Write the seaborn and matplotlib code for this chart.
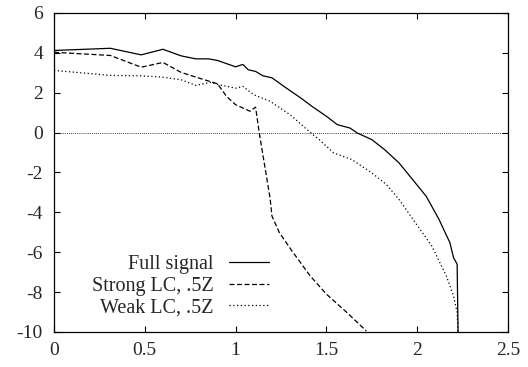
import pandas as pd
import seaborn as sns
import matplotlib.pyplot as plt

# ==================== Data ====================

full_x = [0.0, 0.31, 0.48, 0.60, 0.70, 0.78, 0.85, 0.90, 1.00, 1.04, 1.07, 1.11,
          1.15, 1.20, 1.28, 1.36, 1.42, 1.50, 1.56, 1.63, 1.67, 1.75, 1.82,
          1.90, 1.97, 2.05, 2.12, 2.18, 2.20, 2.22, 2.225]
full_y = [4.12, 4.23, 3.90, 4.18, 3.85, 3.70, 3.70, 3.62, 3.30, 3.42, 3.15, 3.07,
          2.85, 2.75, 2.23, 1.73, 1.32, 0.82, 0.40, 0.23, -0.02, -0.35, -0.85,
          -1.52, -2.30, -3.20, -4.35, -5.52, -6.27, -6.60, -10.0]

strong_x = [0.0, 0.31, 0.48, 0.60, 0.70, 0.80, 0.90, 0.95, 1.00, 1.08, 1.11,
            1.13, 1.17, 1.19, 1.20, 1.24, 1.31, 1.41, 1.50, 1.61, 1.72]
strong_y = [4.03, 3.87, 3.28, 3.52, 3.02, 2.73, 2.45, 1.82, 1.40, 1.07, 1.28,
            0.0, -2.2, -3.3, -4.18, -5.0, -5.93, -7.18, -8.10, -9.0, -9.95]

weak_x = [0.0, 0.31, 0.48, 0.60, 0.70, 0.78, 0.86, 0.91, 1.00, 1.04, 1.10,
          1.19, 1.30, 1.41, 1.46, 1.54, 1.64, 1.75, 1.83, 1.90, 1.99, 2.08,
          2.16, 2.20, 2.22, 2.225]
weak_y = [3.12, 2.87, 2.85, 2.78, 2.65, 2.37, 2.52, 2.40, 2.23, 2.32, 1.90,
          1.57, 0.90, 0.02, -0.35, -1.02, -1.35, -2.02, -2.60, -3.35, -4.52, -5.68,
          -7.18, -8.18, -9.02, -10.0]

labels = ['Full signal', 'Strong LC, .5Z', 'Weak LC, .5Z']
x_ticks = [0, 0.5, 1, 1.5, 2, 2.5]
x_tick_labels = ['0', '0.5', '1', '1.5', '2', '2.5']
y_ticks = [-10, -8, -6, -4, -2, 0, 2, 4, 6]

# ========================================================================

frames = []
for lab, xs, ys in zip(labels, [full_x, strong_x, weak_x], [full_y, strong_y, weak_y]):
    frames.append(pd.DataFrame({'x': xs, 'y': ys, 'Series': lab}))
df = pd.concat(frames, ignore_index=True)

sns.set_style('ticks')
plt.rcParams['font.family'] = ['Liberation Serif', 'DejaVu Serif']
plt.rcParams['font.size'] = 14
plt.rcParams['axes.unicode_minus'] = False

fig = plt.figure(figsize=(5.28, 3.67), dpi=100)
ax = fig.add_axes([0.1023, 0.0954, 0.8598, 0.8692])

styles = {
    'Full signal': '',
    'Strong LC, .5Z': (4, 2),
    'Weak LC, .5Z': (1, 2),
}
sns.lineplot(data=df, x='x', y='y', hue='Series', style='Series',
             palette=['black', 'black', 'black'], dashes=styles,
             sort=False, estimator=None, linewidth=0.9, ax=ax)

# zero line
ax.axhline(0, color='black', linewidth=0.6, linestyle=(0, (1, 1.5)))

ax.set_xlim(0, 2.5)
ax.set_ylim(-10, 6)
ax.set_xticks(x_ticks)
ax.set_xticklabels(x_tick_labels)
ax.set_yticks(y_ticks)
ax.set_xlabel('')
ax.set_ylabel('')
ax.tick_params(direction='in', length=4, width=0.8, top=True, right=True,
               labelsize=14, color='black')
ax.tick_params(axis='y', pad=8)
ax.tick_params(axis='x', pad=7)
for s in ax.spines.values():
    s.set_visible(True)
    s.set_linewidth(0.9)
    s.set_color('black')

handles, _ = ax.get_legend_handles_labels()
ax.legend(handles, labels, loc='center right', bbox_to_anchor=(0.496, 0.143),
          frameon=False, markerfirst=False, borderpad=0, handlelength=2.0,
          handletextpad=0.75, labelspacing=0.12, fontsize=14.5)

plt.savefig('out.png', dpi=100)
plt.close()
